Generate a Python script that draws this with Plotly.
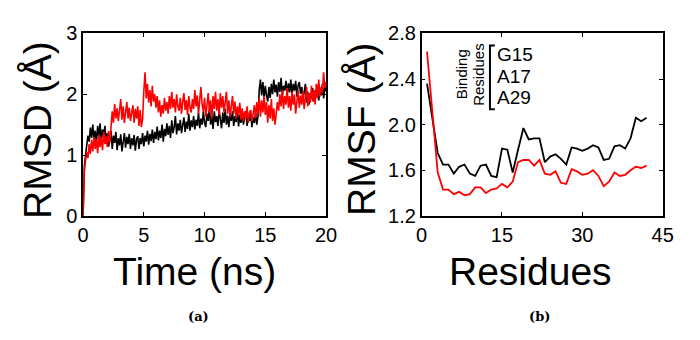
import numpy as np
import plotly.graph_objects as go

W, H = 700, 340

# ---------------- RMSD vs time (ns), sampled every 0.1 ns ----------------
time_ns = [round(0.1 * i, 1) for i in range(201)]

rmsd_black = [
    0.00, 0.80, 1.00, 1.15, 1.32, 1.22, 1.45, 1.28, 1.50, 1.25,
    1.40, 1.20, 1.48, 1.30, 1.52, 1.22, 1.42, 1.33, 1.48, 1.18,
    1.36, 1.14, 1.30, 1.40, 1.10, 1.32, 1.20, 1.38, 1.08, 1.28,
    1.16, 1.34, 1.06, 1.26, 1.36, 1.12, 1.30, 1.18, 1.35, 1.10,
    1.28, 1.16, 1.33, 1.07, 1.26, 1.31, 1.10, 1.28, 1.18, 1.36,
    1.14, 1.32, 1.22, 1.40, 1.17, 1.35, 1.23, 1.42, 1.20, 1.38,
    1.26, 1.47, 1.24, 1.40, 1.28, 1.50, 1.22, 1.43, 1.31, 1.52,
    1.33, 1.48, 1.28, 1.57, 1.36, 1.46, 1.64, 1.34, 1.52, 1.40,
    1.58, 1.36, 1.50, 1.62, 1.38, 1.55, 1.43, 1.68, 1.40, 1.57,
    1.46, 1.64, 1.42, 1.58, 1.48, 1.70, 1.44, 1.60, 1.50, 1.72,
    1.53, 1.46, 1.68, 1.56, 1.77, 1.50, 1.66, 1.43, 1.72, 1.54,
    1.64, 1.48, 1.74, 1.56, 1.44, 1.70, 1.53, 1.76, 1.50, 1.65,
    1.46, 1.68, 1.56, 1.72, 1.48, 1.64, 1.54, 1.74, 1.47, 1.66,
    1.53, 1.70, 1.50, 1.62, 1.72, 1.48, 1.65, 1.56, 1.68, 1.46,
    1.62, 1.53, 1.70, 1.50, 1.64, 2.07, 2.24, 1.98, 2.20, 1.93,
    2.14, 1.98, 1.88, 2.12, 1.94, 2.17, 2.00, 2.24, 2.03, 2.16,
    1.96, 2.20, 2.04, 2.27, 1.98, 2.14, 2.06, 2.22, 2.00, 2.18,
    2.03, 2.24, 1.98, 2.17, 2.06, 2.22, 1.96, 2.14, 2.20, 2.01,
    2.12, 1.90, 2.07, 2.17, 1.86, 2.04, 1.83, 2.02, 1.93, 2.10,
    1.88, 2.07, 1.96, 2.14, 1.90, 2.08, 1.98, 2.17, 1.93, 2.12,
    2.05,
]

rmsd_red = [
    0.00, 0.72, 0.90, 1.05, 0.95, 1.18, 1.02, 1.25, 1.06, 1.30,
    1.10, 1.26, 1.03, 1.33, 1.13, 1.29, 1.08, 1.38, 1.18, 1.31,
    1.13, 1.40, 1.20, 1.45, 1.72, 1.53, 1.84, 1.60, 1.77, 1.56,
    1.74, 1.92, 1.58, 1.80, 1.53, 1.72, 1.87, 1.60, 1.78, 1.56,
    1.70, 1.82, 1.53, 1.76, 1.60, 1.80, 1.48, 1.74, 1.46, 1.60,
    2.05, 2.36, 1.93, 2.17, 1.86, 2.07, 1.80, 2.14, 1.88, 2.00,
    1.78, 1.97, 1.70, 1.90, 1.63, 1.82, 1.68, 1.94, 1.73, 1.87,
    1.68, 1.97, 1.76, 2.04, 1.78, 1.92, 1.70, 2.00, 1.80, 1.73,
    1.94, 1.68, 1.87, 2.02, 1.74, 1.90, 1.66, 1.97, 1.78, 1.70,
    1.92, 1.76, 2.07, 1.80, 1.98, 1.68, 1.90, 2.12, 1.83, 1.72,
    1.94, 1.63, 1.82, 2.02, 1.70, 1.90, 1.60, 1.97, 1.76, 2.04,
    1.73, 1.92, 1.66, 2.02, 1.78, 1.97, 1.70, 1.87, 2.04, 1.68,
    1.90, 1.63, 1.84, 1.97, 1.68, 1.88, 1.60, 1.80, 1.66, 1.86,
    1.58, 1.77, 1.56, 1.72, 1.60, 1.80, 1.53, 1.70, 1.74, 1.56,
    1.68, 1.82, 1.60, 1.87, 1.68, 1.94, 1.63, 1.90, 1.70, 1.97,
    1.66, 1.87, 1.53, 1.82, 1.60, 1.92, 1.56, 1.77, 1.50, 1.72,
    1.87, 1.73, 2.00, 1.80, 2.07, 1.76, 1.97, 1.83, 2.10, 1.78,
    1.97, 1.73, 2.04, 1.83, 2.00, 1.68, 1.92, 2.07, 1.78, 1.98,
    1.83, 2.04, 1.76, 1.97, 2.12, 1.80, 2.02, 1.86, 2.14, 1.88,
    2.07, 1.83, 2.17, 1.93, 2.24, 1.96, 2.12, 2.03, 2.36, 2.10,
    2.20,
]

# ---------------- RMSF per residue ----------------
residues = list(range(1, 43))

rmsf_black = [
    2.36, 2.05, 1.75, 1.65, 1.65, 1.57, 1.63, 1.65, 1.57, 1.55,
    1.64, 1.65, 1.55, 1.54, 1.79, 1.78, 1.58, 1.78, 1.97, 1.87,
    1.88, 1.88, 1.67, 1.72, 1.74, 1.70, 1.65, 1.80, 1.79, 1.77,
    1.79, 1.82, 1.80, 1.69, 1.70, 1.81, 1.82, 1.79, 1.88, 2.06,
    2.03, 2.06,
]

rmsf_red = [
    2.64, 2.10, 1.58, 1.43, 1.43, 1.39, 1.41, 1.38, 1.39, 1.45,
    1.45, 1.40, 1.43, 1.44, 1.48, 1.45, 1.50, 1.67, 1.69, 1.69,
    1.64, 1.69, 1.57, 1.56, 1.59, 1.49, 1.48, 1.61, 1.59, 1.56,
    1.57, 1.60, 1.55, 1.46, 1.50, 1.58, 1.55, 1.56, 1.60, 1.63,
    1.62, 1.64,
]

binding_residues = ["G15", "A17", "A29"]

rmsd_xticks = [0, 5, 10, 15, 20]
rmsd_yticks = [0, 1, 2, 3]
rmsf_xticks = [0, 15, 30, 45]
rmsf_yticks = [1.2, 1.6, 2.0, 2.4, 2.8]


def px(x):
    return x / W


def py(y):
    return 1 - y / H


FONT = "Arial, Liberation Sans, sans-serif"

fig = go.Figure()

fig.add_trace(go.Scatter(x=time_ns, y=rmsd_black, mode="lines",
                         line=dict(color="black", width=1.6),
                         xaxis="x", yaxis="y", showlegend=False))
fig.add_trace(go.Scatter(x=time_ns, y=rmsd_red, mode="lines",
                         line=dict(color="#ff0000", width=1.6),
                         xaxis="x", yaxis="y", showlegend=False))
fig.add_trace(go.Scatter(x=residues, y=rmsf_black, mode="lines",
                         line=dict(color="black", width=1.8),
                         xaxis="x2", yaxis="y2", showlegend=False))
fig.add_trace(go.Scatter(x=residues, y=rmsf_red, mode="lines",
                         line=dict(color="#ff0000", width=1.8),
                         xaxis="x2", yaxis="y2", showlegend=False))

axis_common = dict(
    showline=True, linecolor="black", linewidth=1.6, mirror="ticks",
    ticks="inside", ticklen=4, tickwidth=1, tickcolor="black",
    showgrid=False, zeroline=False,
    tickfont=dict(family=FONT, size=20, color="black"),
)

y_top, y_bot = 24, 219

fig.update_layout(
    width=W, height=H,
    margin=dict(l=0, r=0, t=0, b=0),
    paper_bgcolor="white", plot_bgcolor="white",
    xaxis=dict(domain=[px(79), px(328)], range=[0, 20], tickvals=rmsd_xticks,
               anchor="y", **axis_common),
    yaxis=dict(domain=[py(y_bot), py(y_top)], range=[0, 3], tickvals=rmsd_yticks,
               anchor="x", **axis_common),
    xaxis2=dict(domain=[px(426), px(673)], range=[0, 45], tickvals=rmsf_xticks,
                anchor="y2", **axis_common),
    yaxis2=dict(domain=[py(y_bot), py(y_top)], range=[1.2, 2.8], tickvals=rmsf_yticks,
                tickformat=".1f", anchor="x2", **axis_common),
)

title_font = dict(family=FONT, size=39, color="black")
ann = []
ann.append(dict(text="Time (ns)", x=px(193), y=py(278), xref="paper", yref="paper",
                showarrow=False, font=title_font, xanchor="center", yanchor="middle"))
ann.append(dict(text="RMSD (Å)", x=px(33), y=py(127), xref="paper", yref="paper",
                showarrow=False, font=title_font, textangle=-90,
                xanchor="center", yanchor="middle"))
ann.append(dict(text="Residues", x=px(538), y=py(278), xref="paper", yref="paper",
                showarrow=False, font=title_font, xanchor="center", yanchor="middle"))
ann.append(dict(text="RMSF (Å)", x=px(365), y=py(127), xref="paper", yref="paper",
                showarrow=False, font=title_font, textangle=-90,
                xanchor="center", yanchor="middle"))

# panel captions
cap_font = dict(family="DejaVu Serif, Liberation Serif, serif", size=13, color="black")
ann.append(dict(text="<b>(a)</b>", x=px(197), y=py(327), xref="paper", yref="paper",
                showarrow=False, font=cap_font, xanchor="center", yanchor="middle"))
ann.append(dict(text="<b>(b)</b>", x=px(547), y=py(327), xref="paper", yref="paper",
                showarrow=False, font=cap_font, xanchor="center", yanchor="middle"))

# binding residues label with bracket
small_font = dict(family=FONT, size=15, color="black")
ann.append(dict(text="Binding", x=px(467), y=py(68), xref="paper", yref="paper",
                showarrow=False, font=small_font, textangle=-90,
                xanchor="center", yanchor="middle"))
ann.append(dict(text="Residues", x=px(484), y=py(68), xref="paper", yref="paper",
                showarrow=False, font=small_font, textangle=-90,
                xanchor="center", yanchor="middle"))
res_font = dict(family=FONT, size=19, color="black")
for name, yy in zip(binding_residues, [47, 70, 92]):
    ann.append(dict(text=name, x=px(501), y=py(yy), xref="paper", yref="paper",
                    showarrow=False, font=res_font, xanchor="left", yanchor="middle"))

fig.update_layout(annotations=ann)

bx0, bx1, by0, by1 = 496, 501, 37, 105
fig.add_shape(type="path",
              path=f"M {px(bx1)} {py(by0)} L {px(bx0)} {py(by0)} L {px(bx0)} {py(by1)} L {px(bx1)} {py(by1)}",
              xref="paper", yref="paper", line=dict(color="black", width=2))

fig.write_html("out.html")
